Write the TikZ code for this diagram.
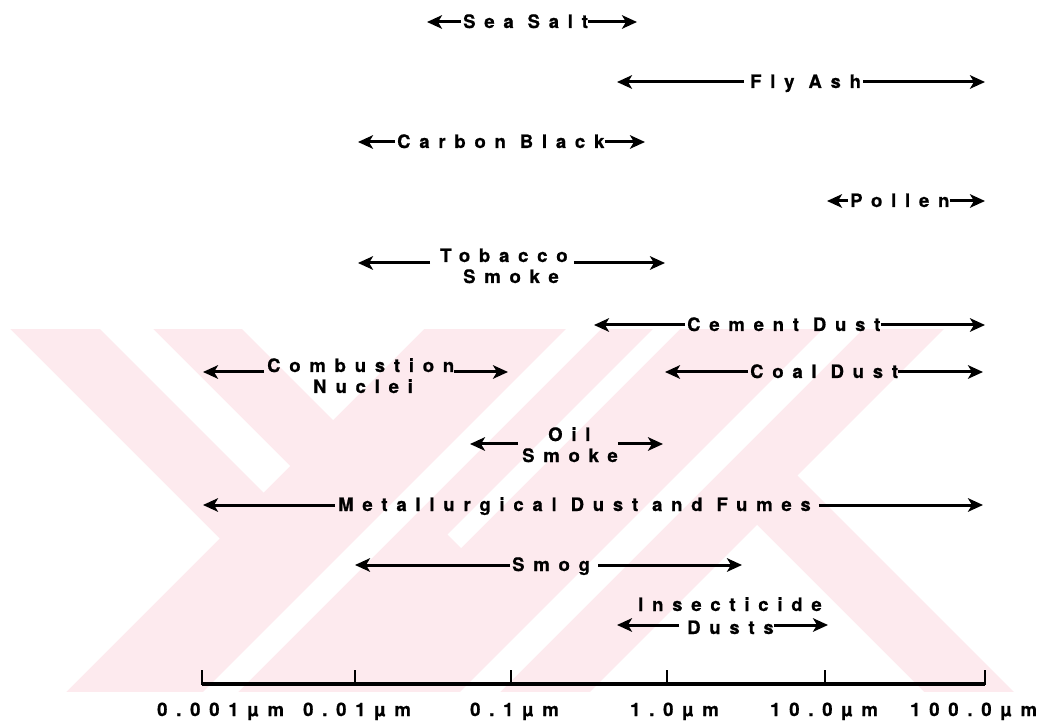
\documentclass[tikz,border=0pt]{standalone}
\usepackage{fontspec}
\setmainfont{Liberation Sans}
\newfontfamily\lbl{texgyreheros-bold.otf}[LetterSpace=47.5, FakeBold=0.8]
\usetikzlibrary{arrows.meta}
\definecolor{wm}{RGB}{253,234,238}
\begin{document}
\begin{tikzpicture}[x=1pt,y=-1pt,
  lab/.style={font=\lbl\fontsize{18.5}{21}\selectfont, inner sep=0pt, anchor=base west},
  arr/.style={line width=3pt, -{Stealth[length=15pt,width=13.5pt,inset=4pt]}},
  axisline/.style={line width=3.6pt},
  tick/.style={line width=2.4pt}]
\useasboundingbox (0,0) rectangle (1045,727);
% watermark
\begin{scope}
\clip (0,329) rectangle (1045,692);
\fill[wm] (0,329) rectangle (1045,692);
\fill[white] (0,329) -- (10,329) -- (219.5,538.5) -- (66,692) -- (0,692) -- cycle;
\fill[white] (100,329) -- (153,329) -- (290,466) -- (263.5,492.5) -- cycle;
\fill[white] (242,329) -- (424,329) -- (333,420) -- cycle;
\fill[white] (566,329) -- (601,329) -- (238,692) -- (203,692) -- cycle;
\fill[white] (653,329) -- (680,329) -- (461,548) -- (447.5,534.5) -- cycle;
\fill[white] (823,329) -- (863,329) -- (500,692) -- (460,692) -- cycle;
\fill[white] (944,329) -- (1045,329) -- (1045,692) -- (1014,692) -- (797.5,475.5) -- cycle;
\fill[white] (757,525) -- (924,692) -- (590,692) -- cycle;
\end{scope}
% labels
\node[lab] (ss) at (463,28) {Sea Salt};
\node[lab] (fa) at (750,88) {Fly Ash};
\node[lab] (cb) at (397,148) {Carbon Black};
\node[lab] (po) at (850,207) {Pollen};
\node[lab] (tb) at (440,262) {Tobacco};
\node[lab] (tb2) at (463,283) {Smoke};
\node[lab] (ce) at (687,331) {Cement Dust};
\node[lab] (co) at (267,372) {Combustion};
\node[lab] (co2) at (313,393) {Nuclei};
\node[lab] (cd) at (750,378) {Coal Dust};
\node[lab] (os) at (548,441) {Oil};
\node[lab] (os2) at (522,462) {Smoke};
\node[lab] (me) at (338,511) {Metallurgical Dust and Fumes};
\node[lab] (sm) at (512,571) {Smog};
\node[lab] (in) at (638,611) {Insecticide};
\node[lab] (in2) at (687,634) {Dusts};
% arrow tips
\coordinate (ssL) at (427,22); \coordinate (ssR) at (637,22);
\coordinate (faL) at (617,82); \coordinate (faR) at (985,82);
\coordinate (cbL) at (358,142); \coordinate (cbR) at (645,142);
\coordinate (poL) at (827,201); \coordinate (poR) at (985,201);
\coordinate (tbL) at (358,263); \coordinate (tbR) at (665,263);
\coordinate (ceL) at (594,325); \coordinate (ceR) at (985,325);
\coordinate (coL) at (203,372); \coordinate (coR) at (508,372);
\coordinate (cdL) at (665,372); \coordinate (cdR) at (983,372);
\coordinate (osL) at (470,444); \coordinate (osR) at (663,444);
\coordinate (meL) at (203,505); \coordinate (meR) at (983,505);
\coordinate (smL) at (355,565); \coordinate (smR) at (742,565);
\coordinate (inL) at (617,625); \coordinate (inR) at (828,625);
% arrows
\draw[arr, shorten <=2pt] (ssL -| ss.west) -- (ssL);
\draw[arr] (ssR -| ss.east) -- (ssR);
\draw[arr, shorten <=6pt] (faL -| fa.west) -- (faL);
\draw[arr, shorten <=2pt] (faR -| fa.east) -- (faR);
\draw[arr, shorten <=2pt] (cbL -| cb.west) -- (cbL);
\draw[arr] (cbR -| cb.east) -- (cbR);
\draw[arr, shorten <=2pt] (poL -| po.west) -- (poL);
\draw[arr] (poR -| po.east) -- (poR);
\draw[arr, shorten <=10pt] (tbL -| tb.west) -- (tbL);
\draw[arr, shorten <=6pt] (tbR -| tb.east) -- (tbR);
\draw[arr, shorten <=2pt] (ceL -| ce.west) -- (ceL);
\draw[arr] (ceR -| ce.east) -- (ceR);
\draw[arr, shorten <=3pt] (coL -| co.west) -- (coL);
\draw[arr] (coR -| co.east) -- (coR);
\draw[arr, shorten <=2pt] (cdL -| cd.west) -- (cdL);
\draw[arr] (cdR -| cd.east) -- (cdR);
\draw[arr, shorten <=4pt] (osL -| os2.west) -- (osL);
\draw[arr] (osR -| os2.east) -- (osR);
\draw[arr, shorten <=3pt] (meL -| me.west) -- (meL);
\draw[arr, shorten <=8pt] (meR -| me.east) -- (meR);
\draw[arr, shorten <=2pt] (smL -| sm.west) -- (smL);
\draw[arr, shorten <=8pt] (smR -| sm.east) -- (smR);
\draw[arr, shorten <=8pt] (inL -| in2.west) -- (inL);
\draw[arr] (inR -| in2.east) -- (inR);
% axis
\coordinate (t0) at (202,684); \coordinate (t1) at (355,684);
\coordinate (t2) at (511,684); \coordinate (t3) at (667,684);
\coordinate (t4) at (825,684); \coordinate (t5) at (985,684);
\draw[axisline] (t0) -- (t5);
\foreach \t in {t0,t1,t2,t3,t4,t5} \draw[tick] ([yshift=-1pt]\t) -- ++(0,-15);
\node[lab] (l0) at (157,716) {0.001µm};
\node[lab] (l1) at (303,716) {0.01µm};
\node[lab] (l2) at (470,716) {0.1µm};
\node[lab] (l3) at (630,716) {1.0µm};
\node[lab] (l4) at (770,716) {10.0µm};
\node[lab] (l5) at (910,716) {100.0µm};
\end{tikzpicture}
\end{document}
